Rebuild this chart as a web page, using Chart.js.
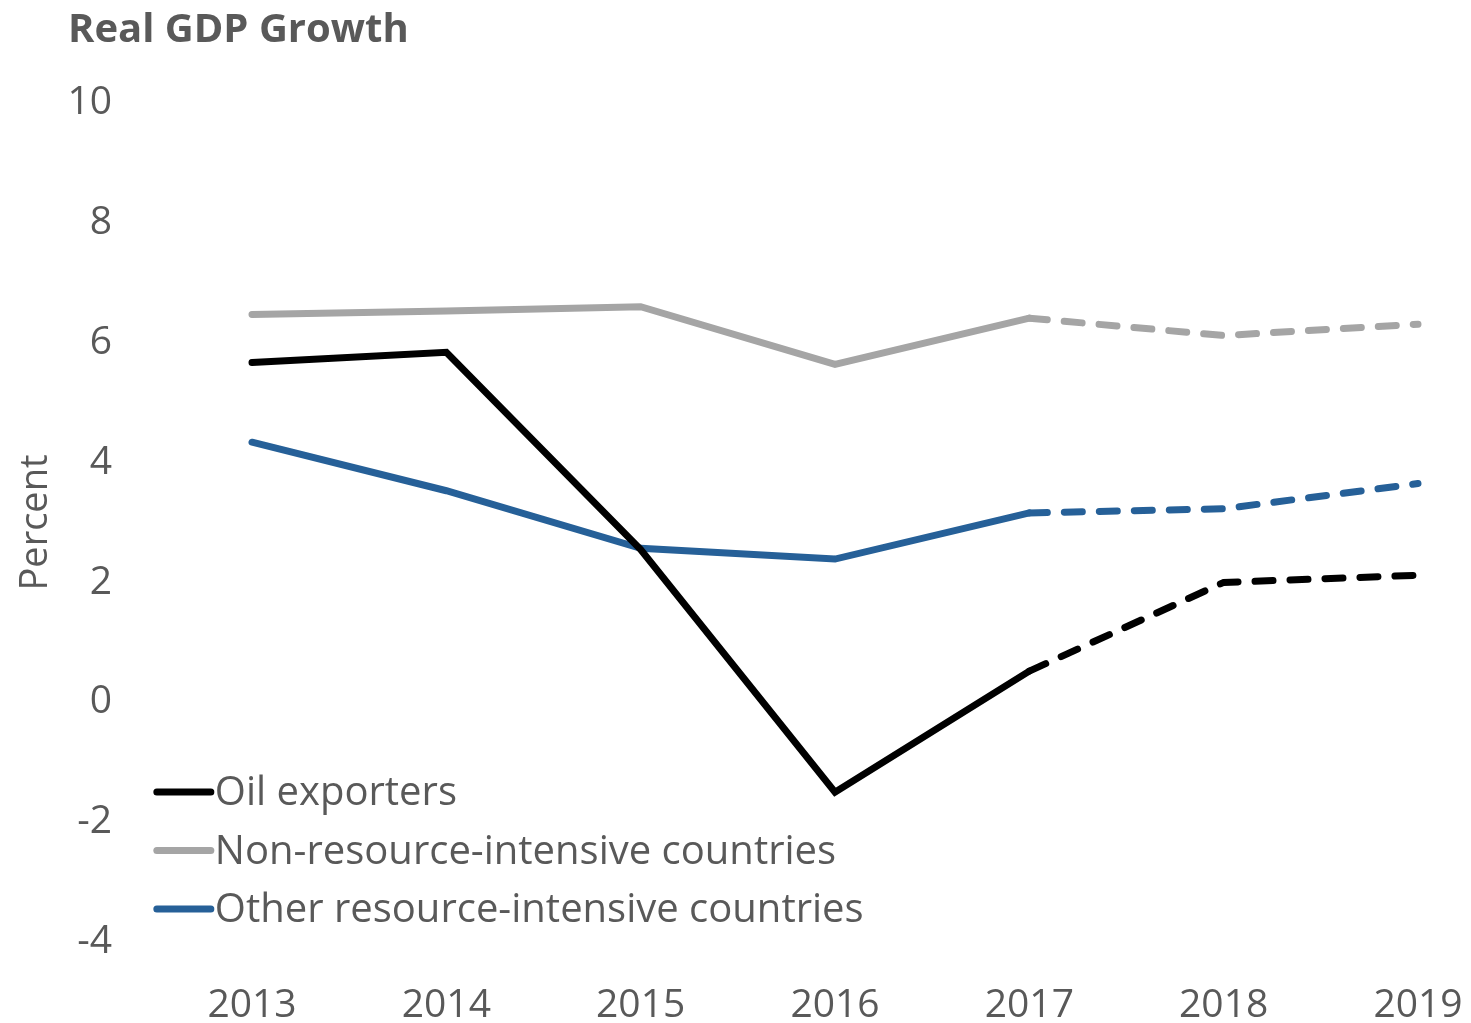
<!DOCTYPE html>
<html>
<head>
<meta charset="utf-8">
<title>Real GDP Growth</title>
<script src="https://cdn.jsdelivr.net/npm/chart.js@4.4.1/dist/chart.umd.min.js"></script>
<style>
  html, body { margin: 0; padding: 0; background: #fff; }
  #wrap { position: relative; width: 1471px; height: 1023px; }
</style>
</head>
<body>
<div id="wrap"><canvas id="gdpChart" width="1471" height="1023"></canvas></div>
<script>
// years on the x axis, forecasts start at 2017
const years = ['2013', '2014', '2015', '2016', '2017', '2018', '2019']
const forecastFrom = 4

// real GDP growth, percent
const oilExporters = [5.67, 5.84, 2.55, -1.50, 0.52, 2.00, 2.12]
const nonResource = [6.47, 6.53, 6.60, 5.64, 6.41, 6.12, 6.31]
const otherResource = [4.34, 3.53, 2.57, 2.39, 3.16, 3.23, 3.65]

const yTicks = [-4, -2, 0, 2, 4, 6, 8, 10]

const textColor = '#595959'
const fontFamily = "'Open Sans', 'Noto Sans', sans-serif"

function makeSeries(label, data, color) {
    return {
        label: label,
        data: data,
        borderColor: color,
        backgroundColor: color,
        borderWidth: 7,
        borderCapStyle: 'round',
        borderJoinStyle: 'miter',
        pointRadius: 0,
        pointHoverRadius: 0,
        fill: false,
        tension: 0,
        clip: false,
        segment: {
            // projections are dashed
            borderDash: ctx => ctx.p0DataIndex >= forecastFrom ? [18, 17] : undefined
        }
    }
}

// title top-left and the legend in the lower-left corner of the plot
const chartText = {
    id: 'chartText',
    afterDraw(chart) {
        const ctx = chart.ctx
        const area = chart.chartArea
        const x = chart.scales.x
        ctx.save()
        ctx.fillStyle = textColor
        ctx.font = 'bold 40px ' + fontFamily
        ctx.textAlign = 'left'
        ctx.textBaseline = 'alphabetic'
        ctx.fillText('Real GDP Growth', 68, 42)

        const half = (x.getPixelForValue(1) - x.getPixelForValue(0)) / 2
        const left = area.left - half
        const rowH = 58.5
        const n = chart.data.datasets.length
        ctx.font = '40px ' + fontFamily
        ctx.textBaseline = 'middle'
        chart.data.datasets.forEach((ds, i) => {
            const y = area.bottom - 33 - (n - 1 - i) * rowH
            ctx.strokeStyle = ds.borderColor
            ctx.lineWidth = 7
            ctx.lineCap = 'round'
            ctx.beginPath()
            ctx.moveTo(left + 2, y)
            ctx.lineTo(left + 56, y)
            ctx.stroke()
            ctx.fillStyle = textColor
            ctx.fillText(ds.label, left + 60, y + 2)
        })
        ctx.restore()
    }
}

const ctx = document.getElementById('gdpChart').getContext('2d')
const chart = new Chart(ctx, {
    type: 'line',
    data: {
        labels: years,
        datasets: [
            makeSeries('Oil exporters', oilExporters, '#000000'),
            makeSeries('Non-resource-intensive countries', nonResource, '#A5A5A5'),
            makeSeries('Other resource-intensive countries', otherResource, '#266098')
        ]
    },
    options: {
        responsive: false,
        animation: false,
        devicePixelRatio: 1,
        layout: {
            padding: { top: 103, right: 53, bottom: 0, left: 0 }
        },
        plugins: {
            legend: { display: false },
            title: { display: false },
            tooltip: { enabled: false }
        },
        scales: {
            x: {
                type: 'category',
                offset: false,
                grid: { display: false, drawTicks: false },
                border: { display: false },
                ticks: {
                    color: textColor,
                    padding: 40,
                    maxRotation: 0,
                    font: { family: fontFamily, size: 39 }
                },
                afterFit(scale) {
                    scale.height = 81
                    // tick padding would otherwise widen the side margins
                    scale.paddingLeft = 0
                    scale.paddingRight = 0
                }
            },
            y: {
                min: -4,
                max: 10,
                grid: { display: false, drawTicks: false },
                border: { display: false },
                afterBuildTicks(scale) {
                    scale.ticks = yTicks.map(v => ({ value: v }))
                },
                ticks: {
                    color: textColor,
                    padding: 140,
                    font: { family: fontFamily, size: 39 }
                },
                title: {
                    display: true,
                    text: 'Percent',
                    color: textColor,
                    padding: { top: 13, bottom: 0 },
                    font: { family: fontFamily, size: 38 }
                },
                afterFit(scale) {
                    scale.width = 252
                    scale.paddingTop = 0
                    scale.paddingBottom = 0
                }
            }
        }
    },
    plugins: [chartText]
})
</script>
</body>
</html>
